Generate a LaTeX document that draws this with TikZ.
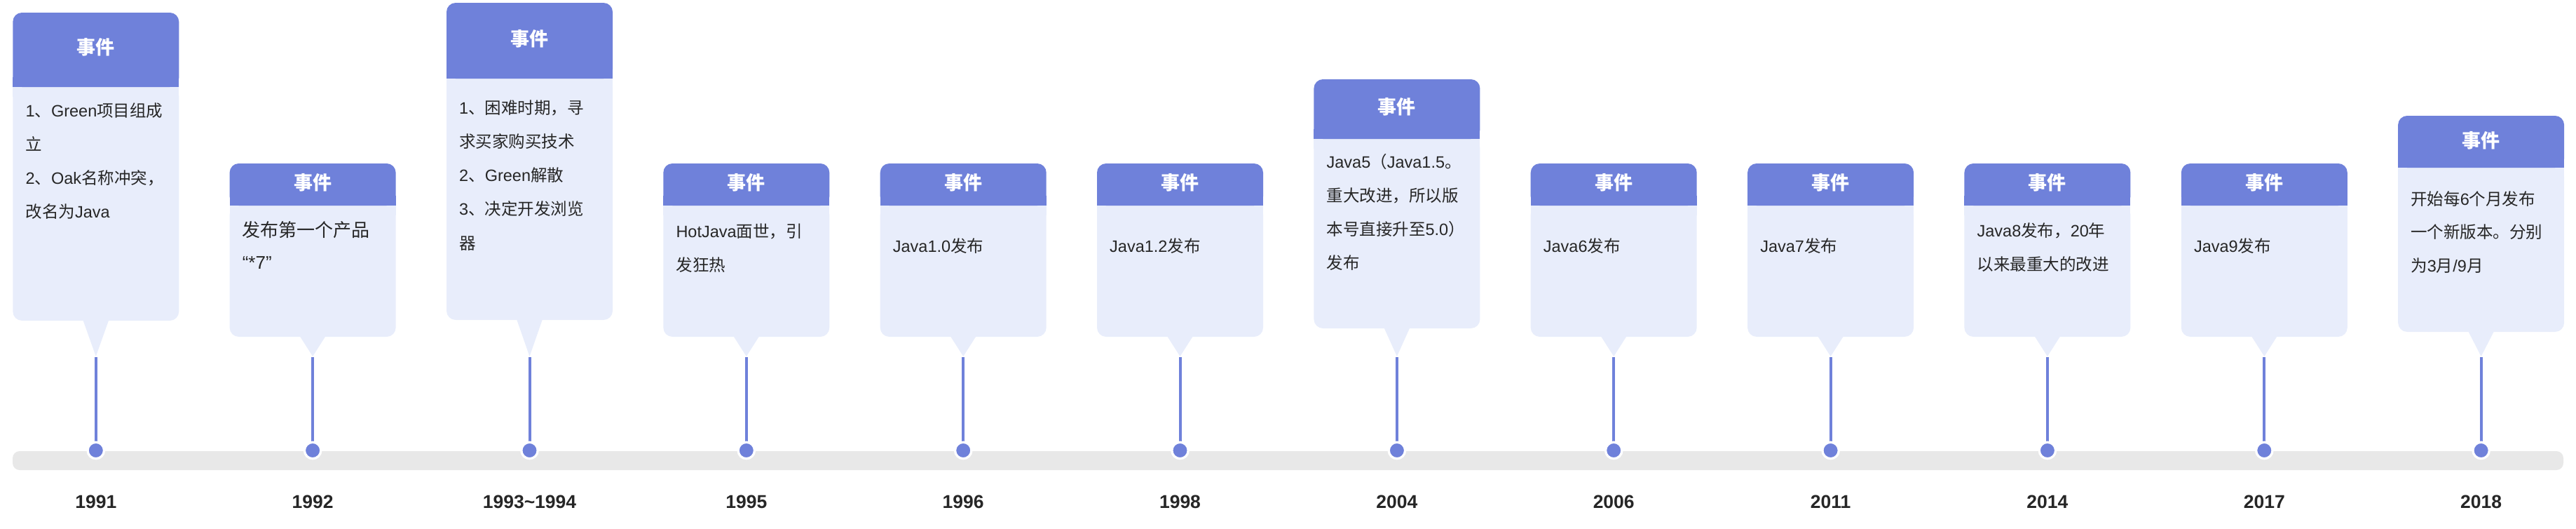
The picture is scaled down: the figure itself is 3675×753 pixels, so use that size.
\documentclass[tikz,border=0pt]{standalone}
\usepackage{fontspec}
\setmainfont{Noto Sans CJK SC}
\newfontfamily\lat{Liberation Sans}
\definecolor{hdr}{RGB}{111,129,218}
\definecolor{bodyc}{RGB}{232,237,251}
\definecolor{barc}{RGB}{232,232,232}
\definecolor{txt}{RGB}{38,38,38}
\newcommand\bodyfnt{\fontsize{23.5}{48.2}\selectfont}
\def\curfont{\bodyfnt}
\tikzset{
  titletext/.style={font=\bfseries\fontsize{27}{27}\selectfont, text=white, inner sep=0pt},
  bodytext/.style={font=\curfont, text=txt, align=left, anchor=north west, inner sep=0pt},
  stemline/.style={draw=hdr, line width=4pt},
  dotnode/.style={circle, fill=hdr, draw=white, line width=3.3pt, minimum size=23.4pt, inner sep=0pt},
  yeartext/.style={font=\lat\bfseries\fontsize{26.5}{26.5}\selectfont, text=txt, inner sep=0pt},
}
% #1 name #2 cx #3 top #4 header bottom #5 box bottom #6 title y #7 first baseline #8 text #9 year
\newcommand\ev[9]{%
  \fill[bodyc, rounded corners=13pt] ({#2-118.5},#4) rectangle ({#2+118.5},#5);
  \fill[bodyc] ({#2-118.5},#4) rectangle ({#2+118.5},{#4+14});
  \fill[bodyc] ({#2-18.5},{#5-1}) -- ({#2+18.5},{#5-1}) -- (#2,508) -- cycle;
  \fill[hdr, rounded corners=13pt] ({#2-118.5},#3) rectangle ({#2+118.5},#4);
  \fill[hdr] ({#2-118.5},{#4-14}) rectangle ({#2+118.5},#4);
  \node[titletext] (#1title) at (#2,#6) {事件};
  \node[bodytext] (#1text) at ({#2-100.5},{#7-24}) {\rule{0pt}{24pt}#8};
  \coordinate (#1tip) at (#2,509);
  \coordinate (#1c) at (#2,642);
  \draw[stemline] (#1tip) -- (#1c);
  \node[dotnode] (#1dot) at (#1c) {};
  \node[yeartext] (#1year) at (#2,715) {#9};
}
\begin{document}
\begin{tikzpicture}[x=1pt,y=-1pt]
\useasboundingbox (0,0) rectangle (3675,753);
\fill[barc, rounded corners=10pt] (18,643) rectangle (3657,670);
\ev{a}{136.8}{18}{124}{457}{67}{166}{{\lat 1}、{\lat Green}项目组成\\立\\{\lat 2}、{\lat Oak}名称冲突，\\改名为{\lat Java}}{1991}
\def\curfont{\fontsize{26}{46}\selectfont}
\ev{b}{446.1}{233}{293}{480}{260}{337}{发布第一个产品\\{\lat “*7”}}{1992}
\def\curfont{\bodyfnt}
\ev{c}{755.5}{4}{112}{456}{55}{162}{{\lat 1}、困难时期，寻\\求买家购买技术\\{\lat 2}、{\lat Green}解散\\{\lat 3}、决定开发浏览\\器}{1993\textasciitilde1994}
\ev{d}{1064.8}{233}{293}{480}{260}{338}{{\lat HotJava}面世，引\\发狂热}{1995}
\ev{e}{1374.2}{233}{293}{480}{260}{359}{{\lat Java1.0}发布}{1996}
\ev{f}{1683.5}{233}{293}{480}{260}{359}{{\lat Java1.2}发布}{1998}
\ev{g}{1992.9}{113}{198}{468}{152}{239}{{\lat Java5}（{\lat Java1.5}。\\重大改进，所以版\\本号直接升至{\lat 5.0}）\\发布}{2004}
\ev{h}{2302.2}{233}{293}{480}{260}{359}{{\lat Java6}发布}{2006}
\ev{i}{2611.6}{233}{293}{480}{260}{359}{{\lat Java7}发布}{2011}
\ev{j}{2920.9}{233}{293}{480}{260}{337}{{\lat Java8}发布，{\lat 20}年\\以来最重大的改进}{2014}
\ev{k}{3230.3}{233}{293}{480}{260}{359}{{\lat Java9}发布}{2017}
\def\curfont{\fontsize{23.5}{47.5}\selectfont}
\ev{l}{3539.6}{165}{239}{473}{200}{292}{开始每{\lat 6}个月发布\\一个新版本。分别\\为{\lat 3}月{\lat /9}月}{2018}
\end{tikzpicture}
\end{document}
